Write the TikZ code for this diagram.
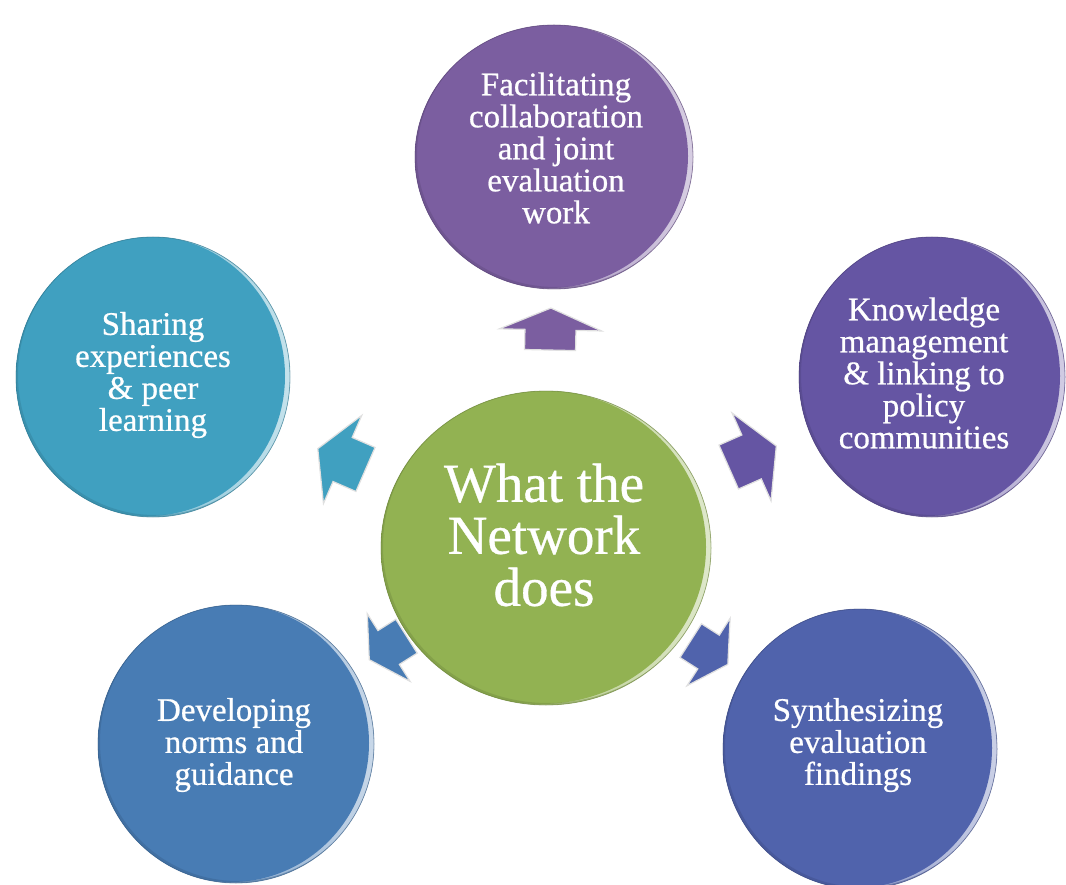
\documentclass[tikz,border=0pt]{standalone}
\usepackage{fontspec}
\setmainfont{Liberation Serif}[FakeBold=0.6]
\usetikzlibrary{calc,shapes.geometric}

\definecolor{colTop}{HTML}{7B5EA0}
\definecolor{colRight}{HTML}{6555A3}
\definecolor{colBR}{HTML}{5063AC}
\definecolor{colBL}{HTML}{487CB4}
\definecolor{colLeft}{HTML}{40A0C0}
\definecolor{colHub}{HTML}{92B252}

\tikzset{
  disc/.style={ellipse, inner sep=0pt, outer sep=0pt},
  bubbletext/.style={text=white, align=center, inner sep=0pt,
    font=\fontsize{33}{32}\selectfont},
  hubtext/.style={text=white, align=center, inner sep=0pt,
    font=\fontsize{55}{52}\selectfont},
  % block arrow pointing along +x, centred on the origin
  % #1 colour, #2 length, #3 half head width, #4 half shaft width
  pics/spoke/.style n args={4}{code={
    \filldraw[fill=#1, draw=black!12, line width=1.2pt, line join=miter]
      (#2/2,0) -- ({#2/2-0.52*#2},#3) -- ({#2/2-0.52*#2},#4) -- ({-#2/2},#4)
      -- ({-#2/2},-#4) -- ({#2/2-0.52*#2},-#4) -- ({#2/2-0.52*#2},-#3) -- cycle;
  }},
}

% bevelled disc: name, centre, x radius, y radius, colour
\newcommand\netbubble[5]{%
  \node[disc, minimum width=#3*2pt, minimum height=#4*2pt, fill=#5] (#1) at (#2) {};
  \begin{scope}
    \clip (#1.center) ellipse [x radius=#3, y radius=#4];
    \shade[left color=#5, right color=#5!30!white]
      (#1.center) ellipse [x radius=#3, y radius=#4];
    \fill[#5] ([xshift=-5pt,yshift=1pt]#1.center) ellipse [x radius=#3, y radius=#4];
    \fill[#5!80!black, opacity=.45, even odd rule]
      (#1.center) ellipse [x radius=#3, y radius=#4]
      ([xshift=2pt,yshift=2pt]#1.center) ellipse [x radius=#3, y radius=#4];
  \end{scope}
  \draw[#5!70!black, line width=.8pt, opacity=.5]
    (#1.center) ellipse [x radius=#3, y radius=#4];
}

\begin{document}
\begin{tikzpicture}[x=1pt, y=-1pt]
  \fill[white] (0,0) rectangle (1066,885);
  \useasboundingbox (0,0) rectangle (1066,885);

  % discs
  \netbubble{hub}{546,548}{165}{157}{colHub}
  \netbubble{collab}{554,157}{139}{132}{colTop}
  \netbubble{knowledge}{932,377}{133}{140}{colRight}
  \netbubble{sharing}{153,377}{137}{140}{colLeft}
  \netbubble{norms}{236,744}{138}{139}{colBL}
  \netbubble{synth}{860,749}{137}{140}{colBR}

  % labels
  \node[hubtext] (hub-t) at (544,535) {What the\\Network\\does};
  \node[bubbletext] (collab-t) at (556,148)
    {Facilitating\\collaboration\\and joint\\evaluation\\work};
  \node[bubbletext] (knowledge-t) at (924,373)
    {Knowledge\\management\\\& linking to\\policy\\communities};
  \node[bubbletext] (sharing-t) at (153,375)
    {Sharing\\experiences\\\& peer\\learning};
  \node[bubbletext] (norms-t) at (234,745)
    {Developing\\norms and\\guidance};
  \node[bubbletext] (synth-t) at (858,745)
    {Synthesizing\\evaluation\\findings};

  % arrows from the hub to each disc
  \pic[rotate=88.8]  at ($(hub.center)!0.56!(collab.center)$)    {spoke={colTop}{42}{51}{25.5}};
  \pic[rotate=23.9]  at ($(hub.center)!0.535!(knowledge.center)$) {spoke={colRight}{52}{48}{24}};
  \pic[rotate=156.5] at ($(hub.center)!0.52!(sharing.center)$)   {spoke={colLeft}{52}{48}{24}};
  \pic[rotate=-32.6] at ($(hub.center)!0.52!(synth.center)$)     {spoke={colBR}{44}{40}{20}};
  \pic[rotate=212.3] at ($(hub.center)!0.51!(norms.center)$)     {spoke={colBL}{44}{40}{20}};
\end{tikzpicture}
\end{document}
